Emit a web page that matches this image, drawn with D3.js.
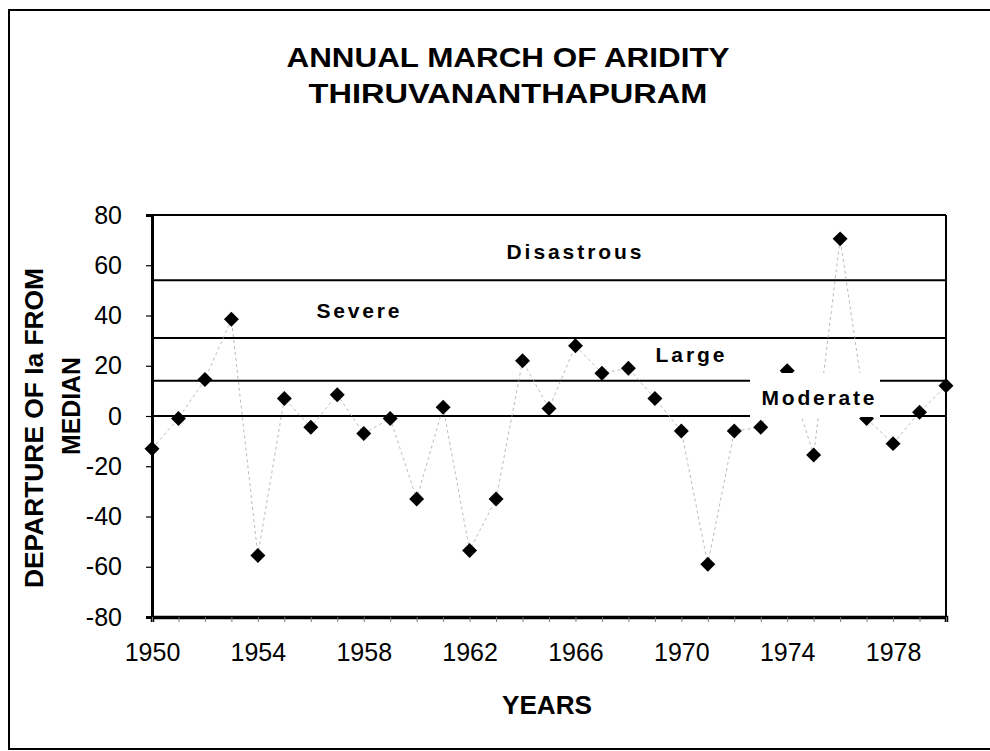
<!DOCTYPE html>
<html>
<head>
<meta charset="utf-8">
<script src="https://cdn.jsdelivr.net/npm/d3@7"></script>
<style>
  html, body { margin: 0; padding: 0; background: #fff; }
  svg { display: block; }
  text { font-family: "Liberation Sans", Arial, sans-serif; fill: #000; }
</style>
</head>
<body>
<script>
// Aridity index departures from the median, Thiruvananthapuram
const years = d3.range(1950, 1981);
const departures = [-13, -1, 14.5, 38.5, -55.5, 7, -4.5, 8.5, -7, -1,
                    -33, 3.5, -53.5, -33, 22, 3, 28, 17, 19, 7,
                    -6, -59, -6, -4.5, 18, -15.5, 70.5, -1, -11, 1.5, 12];
const yTicks = [-80, -60, -40, -20, 0, 20, 40, 60, 80];
const xTickLabels = [1950, 1954, 1958, 1962, 1966, 1970, 1974, 1978];
// class boundaries (lower limits of Moderate, Large, Severe, Disastrous)
const classLimits = [0, 14, 31, 54];
const classNames = ["Moderate", "Large", "Severe", "Disastrous"];

const W = 990, H = 751;
const svg = d3.select("body").append("svg").attr("width", W).attr("height", H);

const x = d3.scaleLinear().domain([1950, 1980]).range([152, 946]);
const y = d3.scaleLinear().domain([-80, 80]).range([617, 215]);

// outer frame (right side runs off the page)
svg.append("rect").attr("x", 9).attr("y", 10).attr("width", 1000).attr("height", 739)
  .attr("fill", "none").attr("stroke", "#000").attr("stroke-width", 2);

// titles
const title = svg.append("g").attr("font-weight", "bold").attr("text-anchor", "middle");
title.append("text").attr("x", 508).attr("y", 67).attr("font-size", 27)
  .attr("textLength", 443).attr("lengthAdjust", "spacingAndGlyphs")
  .text("ANNUAL MARCH OF ARIDITY");
title.append("text").attr("x", 508).attr("y", 103).attr("font-size", 27)
  .attr("textLength", 399).attr("lengthAdjust", "spacingAndGlyphs")
  .text("THIRUVANANTHAPURAM");

// plot box top and right edges
svg.append("line").attr("x1", x(1950)).attr("x2", x(1980)).attr("y1", y(80)).attr("y2", y(80))
  .attr("stroke", "#000").attr("stroke-width", 2);
svg.append("line").attr("x1", x(1980)).attr("x2", x(1980)).attr("y1", y(80)).attr("y2", y(-80))
  .attr("stroke", "#000").attr("stroke-width", 2);

// class boundary lines
svg.append("g").selectAll("line").data(classLimits).join("line")
  .attr("x1", x(1950)).attr("x2", x(1980))
  .attr("y1", d => y(d)).attr("y2", d => y(d))
  .attr("stroke", "#000").attr("stroke-width", 2);

// y axis
const yAxis = svg.append("g").attr("transform", `translate(${x(1950)},0)`)
  .call(d3.axisLeft(y).tickValues(yTicks).tickSize(6).tickPadding(24).tickFormat(d => String(d)));
yAxis.select(".domain").attr("stroke", "#000").attr("stroke-width", 3);
yAxis.selectAll(".tick line").attr("stroke", "#000").attr("stroke-width", 1.2);
yAxis.selectAll(".tick text").attr("font-size", 25).attr("font-family", "Liberation Sans, Arial, sans-serif");

// x axis
const xAxis = svg.append("g").attr("transform", `translate(0,${y(-80)})`)
  .call(d3.axisBottom(x).tickValues(years).tickSize(5).tickPadding(21)
    .tickFormat(d => xTickLabels.includes(d) ? String(d) : ""));
xAxis.select(".domain").attr("stroke", "#000").attr("stroke-width", 3.5);
xAxis.selectAll(".tick line").attr("stroke", "#777").attr("stroke-width", 1);
xAxis.selectAll(".tick text").attr("font-size", 25).attr("font-family", "Liberation Sans, Arial, sans-serif");

// axis titles
svg.append("text").attr("font-weight", "bold").attr("font-size", 25).attr("text-anchor", "middle")
  .attr("x", 547).attr("y", 714).attr("textLength", 90).attr("lengthAdjust", "spacingAndGlyphs")
  .text("YEARS");
const yTitle = svg.append("g").attr("font-weight", "bold").attr("font-size", 25).attr("text-anchor", "middle");
yTitle.append("text").attr("transform", "translate(43,428) rotate(-90)")
  .attr("textLength", 320).attr("lengthAdjust", "spacingAndGlyphs")
  .text("DEPARTURE OF Ia FROM");
yTitle.append("text").attr("transform", "translate(80,406) rotate(-90)")
  .attr("textLength", 98).attr("lengthAdjust", "spacingAndGlyphs")
  .text("MEDIAN");

// connecting trace
const line = d3.line().x((d, i) => x(years[i])).y(d => y(d));
svg.append("path").datum(departures).attr("d", line)
  .attr("fill", "none").attr("stroke", "#aaa").attr("stroke-width", 0.8)
  .attr("stroke-dasharray", "3,3");

// diamond markers
const diamond = d3.symbol(d3.symbolSquare).size(112);
svg.append("g").selectAll("path").data(departures).join("path")
  .attr("d", diamond)
  .attr("transform", (d, i) => `translate(${x(years[i])},${y(d)}) rotate(45)`)
  .attr("fill", "#000");

// class labels
const labelPos = [
  { cx: 818, base: 405, len: 113, box: [750, 373, 130, 44] },
  { cx: 690, base: 362, len: 69 },
  { cx: 358, base: 318, len: 83 },
  { cx: 574, base: 259, len: 135 }
];
const labels = svg.append("g");
classNames.forEach((name, i) => {
  const p = labelPos[i];
  if (p.box) {
    labels.append("rect").attr("x", p.box[0]).attr("y", p.box[1])
      .attr("width", p.box[2]).attr("height", p.box[3]).attr("fill", "#fff");
  }
  labels.append("text").attr("x", p.cx).attr("y", p.base).attr("text-anchor", "middle")
    .attr("font-size", 21).attr("font-weight", "bold")
    .attr("textLength", p.len).attr("lengthAdjust", "spacing")
    .text(name);
});
</script>
</body>
</html>
